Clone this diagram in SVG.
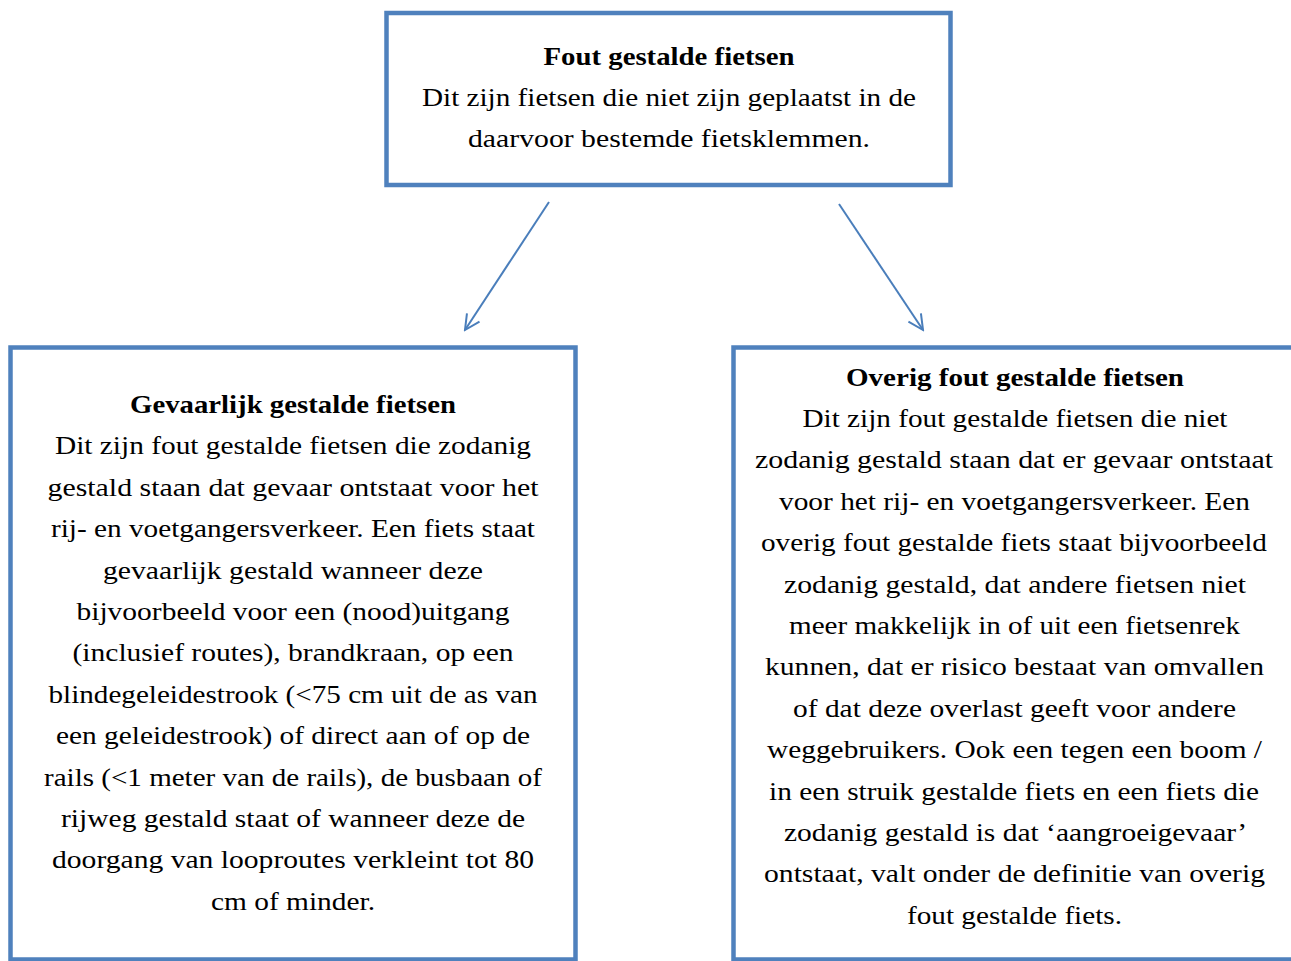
<svg xmlns="http://www.w3.org/2000/svg" width="1291" height="961" viewBox="0 0 1291 961">
<defs>
<style>
.box{fill:#fff;stroke:#4F81BD;stroke-width:4.5}
.t{font-family:"Liberation Serif","Times New Roman",serif;font-size:24.5px;fill:#000;text-anchor:middle}
.b{font-weight:bold}
.conn{stroke:#4A7EBB;stroke-width:2;fill:none}
</style>
<marker id="arr" viewBox="0 0 20 20" refX="18" refY="10" markerWidth="20" markerHeight="20" markerUnits="userSpaceOnUse" orient="auto">
<path d="M3,2.5 L18,10 L3,17.5" fill="none" stroke="#4A7EBB" stroke-width="2"/>
</marker>
</defs>
<rect width="1291" height="961" fill="#fff"/>
<g id="connectors">
<line class="conn" x1="549" y1="202" x2="465" y2="330" marker-end="url(#arr)"/>
<line class="conn" x1="839" y1="204" x2="923" y2="330" marker-end="url(#arr)"/>
</g>
<g id="node-top">
<rect class="box" x="386.5" y="13" width="564" height="172"/>
<text class="t b" x="669" y="64.5" textLength="251" lengthAdjust="spacingAndGlyphs">Fout gestalde fietsen</text>
<text class="t" x="669" y="106" textLength="494" lengthAdjust="spacingAndGlyphs">Dit zijn fietsen die niet zijn geplaatst in de</text>
<text class="t" x="669" y="147.3" textLength="402" lengthAdjust="spacingAndGlyphs">daarvoor bestemde fietsklemmen.</text>
</g>
<g id="node-left">
<rect class="box" x="10.5" y="347.5" width="565" height="612"/>
<text class="t b" x="293" y="413" textLength="326" lengthAdjust="spacingAndGlyphs">Gevaarlijk gestalde fietsen</text>
<text class="t" x="293" y="454.4" textLength="476" lengthAdjust="spacingAndGlyphs">Dit zijn fout gestalde fietsen die zodanig</text>
<text class="t" x="293" y="495.8" textLength="491" lengthAdjust="spacingAndGlyphs">gestald staan dat gevaar ontstaat voor het</text>
<text class="t" x="293" y="537.2" textLength="484" lengthAdjust="spacingAndGlyphs">rij- en voetgangersverkeer. Een fiets staat</text>
<text class="t" x="293" y="578.6" textLength="380" lengthAdjust="spacingAndGlyphs">gevaarlijk gestald wanneer deze</text>
<text class="t" x="293" y="620" textLength="433" lengthAdjust="spacingAndGlyphs">bijvoorbeeld voor een (nood)uitgang</text>
<text class="t" x="293" y="661.4" textLength="441" lengthAdjust="spacingAndGlyphs">(inclusief routes), brandkraan, op een</text>
<text class="t" x="293" y="702.8" textLength="489" lengthAdjust="spacingAndGlyphs">blindegeleidestrook (&lt;75 cm uit de as van</text>
<text class="t" x="293" y="744.2" textLength="474" lengthAdjust="spacingAndGlyphs">een geleidestrook) of direct aan of op de</text>
<text class="t" x="293" y="785.6" textLength="498" lengthAdjust="spacingAndGlyphs">rails (&lt;1 meter van de rails), de busbaan of</text>
<text class="t" x="293" y="827" textLength="464" lengthAdjust="spacingAndGlyphs">rijweg gestald staat of wanneer deze de</text>
<text class="t" x="293" y="868.4" textLength="482" lengthAdjust="spacingAndGlyphs">doorgang van looproutes verkleint tot 80</text>
<text class="t" x="293" y="909.8" textLength="164" lengthAdjust="spacingAndGlyphs">cm of minder.</text>
</g>
<g id="node-right">
<rect class="box" x="733.5" y="347.5" width="570" height="612"/>
<text class="t b" x="1015" y="385.5" textLength="338" lengthAdjust="spacingAndGlyphs">Overig fout gestalde fietsen</text>
<text class="t" x="1015" y="426.9" textLength="425" lengthAdjust="spacingAndGlyphs">Dit zijn fout gestalde fietsen die niet</text>
<text class="t" x="1014" y="468.3" textLength="518" lengthAdjust="spacingAndGlyphs">zodanig gestald staan dat er gevaar ontstaat</text>
<text class="t" x="1014.5" y="509.7" textLength="471" lengthAdjust="spacingAndGlyphs">voor het rij- en voetgangersverkeer. Een</text>
<text class="t" x="1014" y="551.1" textLength="506" lengthAdjust="spacingAndGlyphs">overig fout gestalde fiets staat bijvoorbeeld</text>
<text class="t" x="1015" y="592.5" textLength="462" lengthAdjust="spacingAndGlyphs">zodanig gestald, dat andere fietsen niet</text>
<text class="t" x="1014.5" y="633.9" textLength="451" lengthAdjust="spacingAndGlyphs">meer makkelijk in of uit een fietsenrek</text>
<text class="t" x="1014.5" y="675.3" textLength="499" lengthAdjust="spacingAndGlyphs">kunnen, dat er risico bestaat van omvallen</text>
<text class="t" x="1014.5" y="716.7" textLength="443" lengthAdjust="spacingAndGlyphs">of dat deze overlast geeft voor andere</text>
<text class="t" x="1014.5" y="758.1" textLength="495" lengthAdjust="spacingAndGlyphs">weggebruikers. Ook een tegen een boom /</text>
<text class="t" x="1014" y="799.5" textLength="490" lengthAdjust="spacingAndGlyphs">in een struik gestalde fiets en een fiets die</text>
<text class="t" x="1015.5" y="840.9" textLength="463" lengthAdjust="spacingAndGlyphs">zodanig gestald is dat ‘aangroeigevaar’</text>
<text class="t" x="1014.5" y="882.3" textLength="501" lengthAdjust="spacingAndGlyphs">ontstaat, valt onder de definitie van overig</text>
<text class="t" x="1014.5" y="923.7" textLength="215" lengthAdjust="spacingAndGlyphs">fout gestalde fiets.</text>
</g>
</svg>
